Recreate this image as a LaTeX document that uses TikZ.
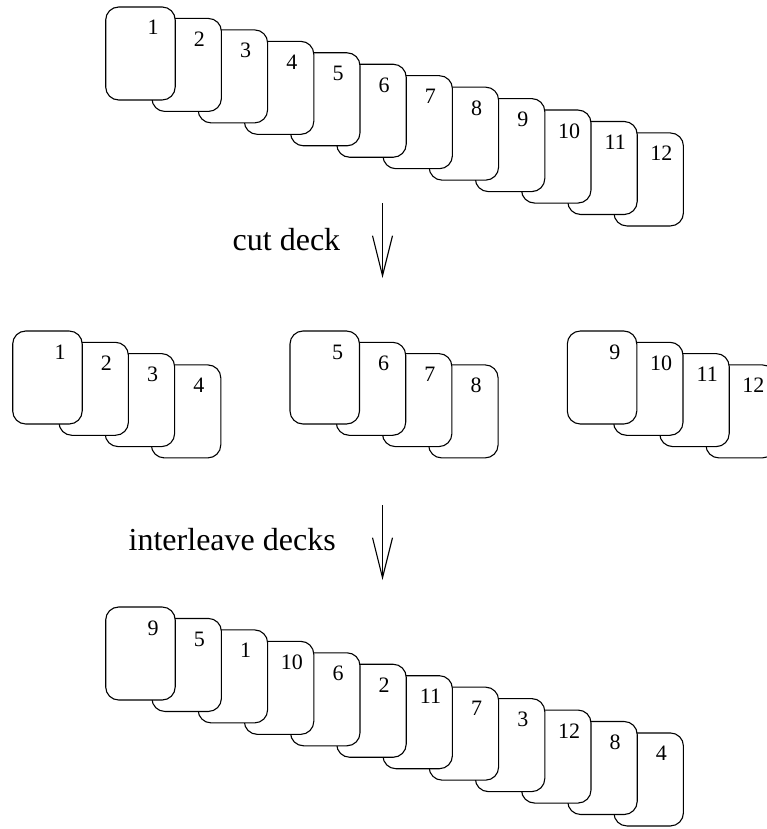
\documentclass[tikz,border=0pt]{standalone}
\usepackage{fontspec}
\setmainfont{Liberation Serif}
\usetikzlibrary{arrows.meta,calc}
\begin{document}
\begin{tikzpicture}[x=1pt,y=-1pt,
  card/.style={draw,fill=white,rounded corners=13pt,line width=1.1pt,
    minimum width=69.5pt,minimum height=93pt,inner sep=0pt,outer sep=0pt},
  num/.style={anchor=base,inner sep=0pt,font=\fontsize{22}{22}\selectfont},
  lbl/.style={anchor=base west,inner sep=0pt,font=\fontsize{32}{32}\selectfont},
  flow/.style={line width=1.1pt,-{Straight Barb[length=40pt,width=20pt,line width=1.1pt]}}]
\useasboundingbox (0,0) rectangle (767,829);
\clip (0,0) rectangle (767,829);
% top row
\foreach \i/\lab in {11/12,10/11,9/10,8/9,7/8,6/7,5/6,4/5,3/4,2/3,1/2,0/1}{
  \node[card] (t\lab) at ({105.7+46.2*\i+34.75},{7+11.45*\i+46.5}) {};
  \node[num] (tl\lab) at ($(t\lab.north east)+(-22,28)$) {\lab};
}
% middle row
\foreach \g/\a/\b/\c/\d in {0/1/2/3/4,1/5/6/7/8,2/9/10/11/12}{
  \foreach \j/\lab in {3/\d,2/\c,1/\b,0/\a}{
    \node[card] (m\lab) at ({12.7+277.3*\g+46.2*\j+34.75},{331+11.3*\j+46.5}) {};
    \node[num] (ml\lab) at ($(m\lab.north east)+(-22,28)$) {\lab};
  }
}
% bottom row
\foreach \i/\lab in {11/4,10/8,9/12,8/3,7/7,6/11,5/2,4/6,3/10,2/1,1/5,0/9}{
  \node[card] (b\i) at ({105.7+46.2*\i+34.75},{607+11.45*\i+46.5}) {};
  \node[num] (bl\i) at ($(b\i.north east)+(-22,28)$) {\lab};
}
% labels and arrows
\node[lbl] (cut) at (232.5,250) {cut deck};
\node[lbl] (inter) at (128.5,550) {interleave decks};
\coordinate (a1s) at (382.5,203);
\coordinate (a1e) at (382.5,278);
\coordinate (a2s) at (382.5,505);
\coordinate (a2e) at (382.5,580);
\draw[flow] (a1s) -- (a1e);
\draw[flow] (a2s) -- (a2e);
\end{tikzpicture}
\end{document}
